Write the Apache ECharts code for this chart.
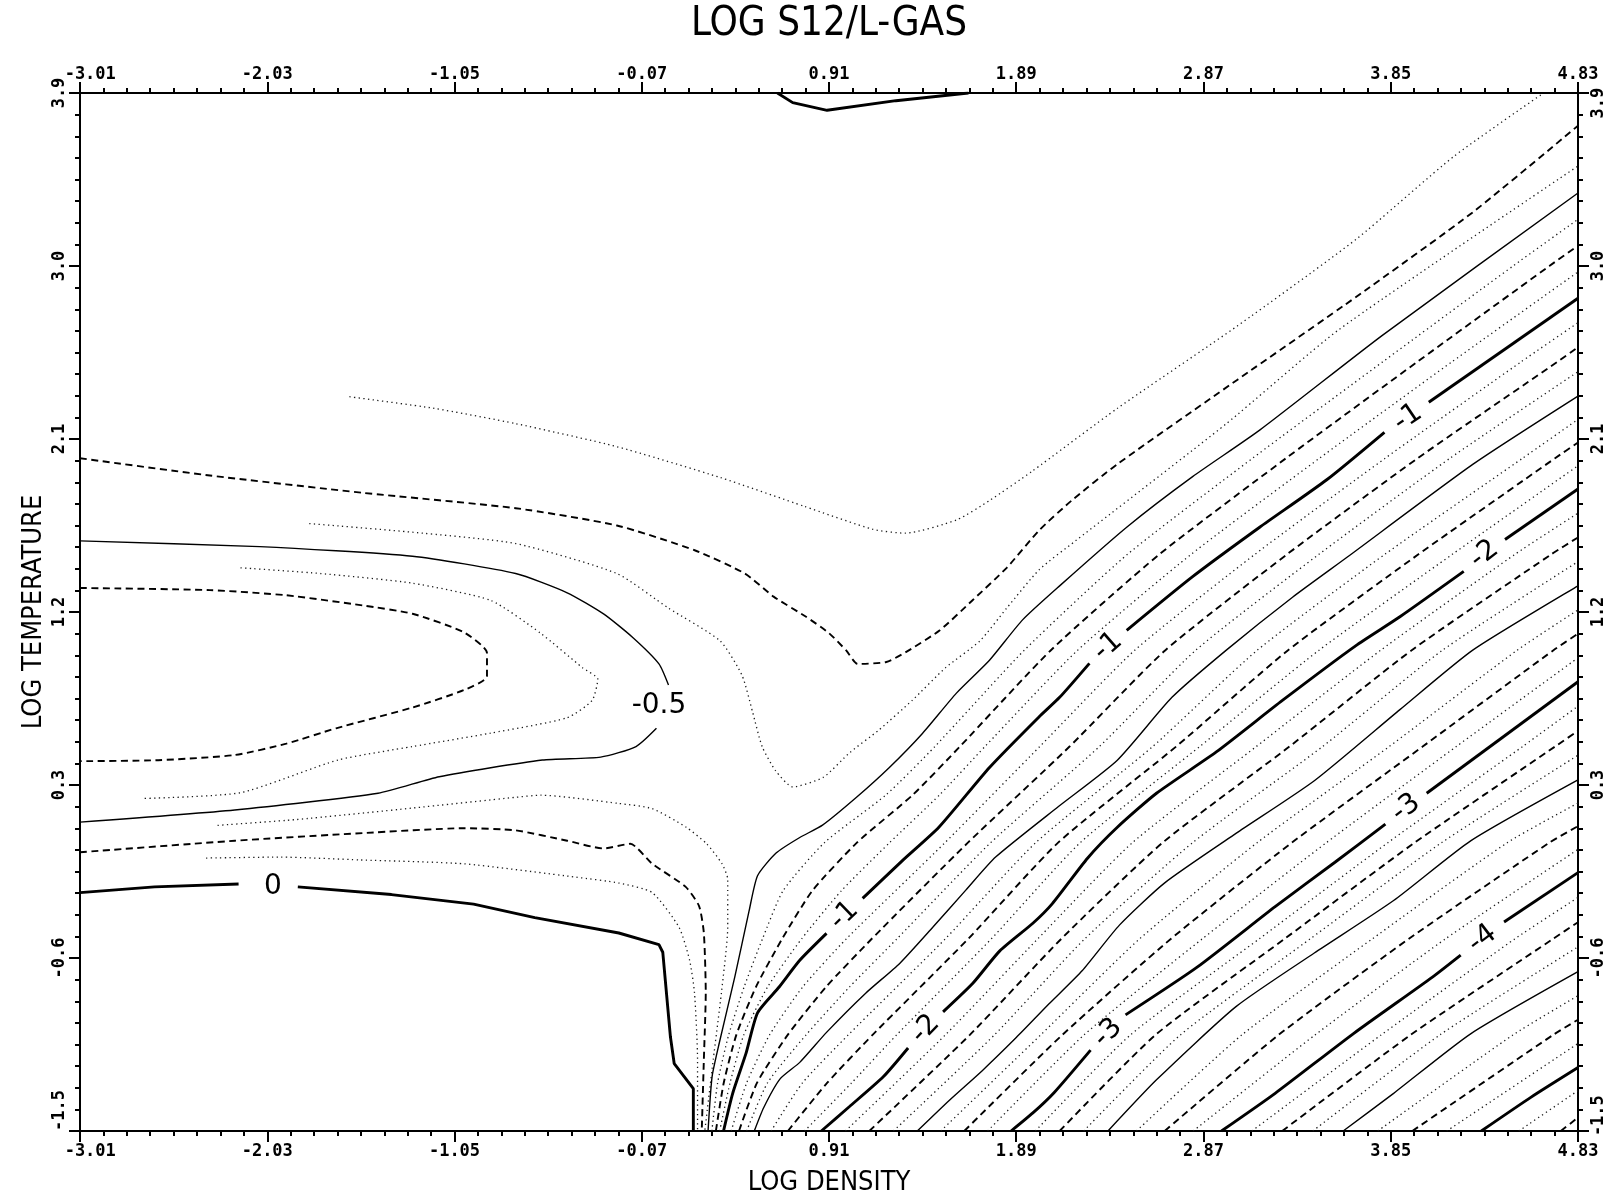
<!DOCTYPE html>
<html>
<head>
<meta charset="utf-8">
<title>LOG S12/L-GAS</title>
<script src="https://cdn.jsdelivr.net/npm/echarts@6/dist/echarts.min.js"></script>
<style>
  html, body { margin: 0; padding: 0; background: #fff; }
  #chart { width: 1617px; height: 1201px; }
</style>
</head>
<body>
<div id="chart"></div>
<script>
// ---- axis tick values ----
const xTicks = [-3.01, -2.03, -1.05, -0.07, 0.91, 1.89, 2.87, 3.85, 4.83];
const yTicks = [-1.5, -0.6, 0.3, 1.2, 2.1, 3.0, 3.9];

// ---- contour lines: [log density, log temperature]; each level is a list of segments ----
const c_0 = [
  [[-3.01,-0.26],[-2.62,-0.23],[-2.18,-0.215]],
  [[-1.87,-0.23],[-1.38,-0.27],[-0.95,-0.32],[-0.63,-0.39],[-0.19,-0.47],[0.02,-0.53],[0.04,-0.57],[0.08,-1.01],[0.10,-1.15],[0.20,-1.28],[0.20,-1.5]],
  [[0.64,3.9],[0.72,3.85],[0.90,3.81],[1.26,3.86],[1.64,3.9]]
];
const c_m0_125 = [
  [[-1.60,2.32],[-1.16,2.26],[-0.73,2.18],[-0.20,2.06],[0.34,1.90],[0.78,1.75],[1.14,1.63],[1.31,1.61],[1.58,1.68],[1.75,1.78],[1.97,1.93],[2.42,2.26],[3.05,2.69],[3.67,3.14],[4.18,3.57],[4.65,3.9]],
  [[-2.35,-0.08],[-1.96,-0.075],[-1.54,-0.09],[-1.00,-0.11],[-0.41,-0.18],[-0.19,-0.21],[-0.015,-0.26],[0.125,-0.44],[0.18,-0.61],[0.206,-0.78],[0.222,-1.13],[0.222,-1.5]]
];
const c_m0_25 = [
  [[-3.01,2.00],[-2.33,1.91],[-1.53,1.82],[-0.73,1.74],[-0.20,1.65],[0.21,1.52],[0.47,1.40],[0.62,1.28],[0.79,1.175],[0.91,1.09],[1.00,1.00],[1.06,0.93],[1.21,0.94],[1.31,0.99],[1.49,1.105],[1.66,1.26],[1.84,1.43],[2.01,1.625],[2.18,1.78],[2.42,1.97],[3.05,2.41],[3.67,2.84],[4.28,3.28],[4.83,3.73]],
  [[-3.01,-0.05],[-2.20,0.01],[-1.53,0.05],[-1.00,0.075],[-0.73,0.064],[-0.46,0.01],[-0.27,-0.03],[-0.13,-0.006],[-0.015,-0.11],[0.16,-0.23],[0.23,-0.33],[0.255,-0.47],[0.265,-0.78],[0.255,-1.13],[0.244,-1.5]]
];
const c_m0_375 = [
  [[-1.81,1.66],[-1.27,1.615],[-0.73,1.556],[-0.20,1.40],[0.07,1.22],[0.34,1.05],[0.455,0.87],[0.51,0.68],[0.56,0.50],[0.63,0.375],[0.72,0.29],[0.88,0.34],[1.02,0.47],[1.17,0.585],[1.345,0.74],[1.52,0.91],[1.70,1.05],[1.84,1.22],[2.01,1.42],[2.20,1.57],[2.99,2.18],[3.58,2.67],[4.83,3.52]],
  [[-2.29,0.09],[-1.88,0.12],[-1.27,0.18],[-0.73,0.236],[-0.60,0.247],[-0.19,0.204],[-0.015,0.177],[0.163,0.08],[0.27,-0.006],[0.35,-0.11],[0.38,-0.19],[0.38,-0.44],[0.347,-0.78],[0.304,-1.13],[0.26,-1.5]]
];
const c_m0_5 = [
  [[-3.01,1.57],[-2.07,1.54],[-1.27,1.49],[-0.73,1.40],[-0.46,1.30],[-0.27,1.19],[-0.12,1.07],[0.02,0.93],[0.07,0.82]],
  [[0.007,0.595],[-0.10,0.50],[-0.285,0.445],[-0.59,0.43],[-1.13,0.343],[-1.45,0.257],[-2.20,0.17],[-3.01,0.107]],
  [[0.277,-1.5],[0.298,-1.218],[0.336,-1.041],[0.417,-0.698],[0.492,-0.354],[0.536,-0.172],[0.633,-0.054],[0.757,0.027],[0.876,0.091],[1.054,0.236],[1.226,0.391],[1.399,0.568],[1.577,0.778],[1.750,0.949],[1.923,1.159],[2.117,1.336],[2.468,1.641],[2.813,1.904],[3.164,2.146],[3.806,2.639],[4.83,3.38]]
];
const c_m0_625 = [
  [[-2.17,1.43],[-1.75,1.40],[-1.27,1.35],[-0.86,1.26],[-0.60,1.09],[-0.38,0.91],[-0.30,0.85],[-0.33,0.74],[-0.46,0.65],[-0.86,0.57],[-1.27,0.50],[-1.66,0.43],[-2.17,0.26],[-2.68,0.23]],
  [[0.297,-1.5],[0.327,-1.25],[0.385,-1],[0.466,-0.75],[0.562,-0.5],[0.670,-0.25],[0.886,0],[1.210,0.25],[1.464,0.5],[1.931,1],[2.472,1.5],[3.127,2],[3.806,2.5],[4.49,3.0],[4.83,3.243]]
];
const c_m0_75 = [
  [[-3.01,1.325],[-2.33,1.314],[-1.93,1.287],[-1.53,1.234],[-1.27,1.191],[-1.00,1.094],[-0.88,0.987],[-0.88,0.864],[-1.00,0.794],[-1.27,0.703],[-1.67,0.595],[-1.93,0.515],[-2.20,0.456],[-2.60,0.429],[-3.01,0.424]],
  [[0.318,-1.5],[0.359,-1.25],[0.425,-1],[0.528,-0.75],[0.665,-0.5],[0.823,-0.25],[1.056,0],[1.350,0.25],[1.595,0.5],[2.070,1],[2.639,1.5],[3.302,2],[3.987,2.5],[4.68,3.0],[4.83,3.106]]
];
const c_m0_875 = [
  [[0.338,-1.5],[0.392,-1.25],[0.464,-1],[0.589,-0.75],[0.767,-0.5],[0.975,-0.25],[1.227,0],[1.490,0.25],[1.726,0.5],[2.210,1],[2.805,1.5],[3.477,2],[4.168,2.5],[4.83,2.969]]
];
const c_m1 = [
  [[0.358,-1.5],[0.406,-1.304],[0.476,-1.095],[0.536,-0.885],[0.649,-0.751],[0.757,-0.612],[0.897,-0.472]],
  [[1.086,-0.29],[1.297,-0.091],[1.485,0.08],[1.750,0.391],[2.009,0.654],[2.117,0.756],[2.273,0.933]],
  [[2.468,1.105],[2.813,1.384],[3.164,1.641],[3.515,1.888],[3.817,2.135]],
  [[4.049,2.291],[4.83,2.832]]
];
const c_m1_125 = [[[0.398,-1.5],[0.479,-1.25],[0.599,-1],[0.773,-0.75],[1.001,-0.5],[1.517,0],[2.013,0.5],[2.509,1],[3.139,1.5],[3.821,2],[4.53,2.5],[4.83,2.705]]];
const c_m1_25  = [[[0.439,-1.5],[0.533,-1.25],[0.694,-1],[0.895,-0.75],[1.134,-0.5],[1.637,0],[2.169,0.5],[2.669,1],[3.307,1.5],[3.991,2],[4.72,2.5],[4.83,2.578]]];
const c_m1_375 = [[[0.479,-1.5],[0.588,-1.25],[0.790,-1],[1.018,-0.75],[1.266,-0.5],[1.756,0],[2.325,0.5],[2.828,1],[3.474,1.5],[4.160,2],[4.83,2.450]]];
const c_m1_5 = [[[0.519,-1.5],[0.568,-1.379],[0.654,-1.229],[0.757,-1.143],[0.897,-0.987],[1.102,-0.783],[1.280,-0.628],[1.453,-0.44],[1.626,-0.247],[1.782,-0.075],[2.111,0.188],[2.419,0.429],[2.705,0.756],[2.991,1.003],[3.336,1.277],[3.623,1.486],[4.281,1.969],[4.83,2.323]]];
const c_m1_625 = [[[0.607,-1.5],[0.771,-1.25],[1.011,-1],[1.519,-0.5],[1.992,0],[2.604,0.5],[3.150,1],[3.819,1.5],[4.54,2],[4.83,2.202]]];
const c_m1_75  = [[[0.695,-1.5],[0.900,-1.25],[1.138,-1],[1.639,-0.5],[2.109,0],[2.727,0.5],[3.311,1],[3.995,1.5],[4.71,2],[4.83,2.082]]];
const c_m1_875 = [[[0.782,-1.5],[1.028,-1.25],[1.264,-1],[1.760,-0.5],[2.225,0],[2.850,0.5],[3.473,1],[4.172,1.5],[4.83,1.961]]];
const c_m2 = [
  [[0.870,-1.5],[1.016,-1.374],[1.194,-1.218],[1.324,-1.068]],
  [[1.507,-0.88],[1.664,-0.73],[1.804,-0.563],[1.977,-0.419],[2.079,-0.317],[2.263,-0.081],[2.419,0.08],[2.624,0.257],[2.937,0.472],[3.283,0.74],[3.666,1.024],[3.898,1.175],[4.232,1.411]],
  [[4.448,1.577],[4.83,1.84]]
];
const c_m2_125 = [[[0.996,-1.5],[1.519,-1],[2.003,-0.5],[2.498,0],[3.146,0.5],[3.796,1],[4.50,1.5],[4.83,1.714]]];
const c_m2_25  = [[[1.121,-1.5],[1.647,-1],[2.126,-0.5],[2.656,0],[3.320,0.5],[3.958,1],[4.69,1.5],[4.83,1.588]]];
const c_m2_375 = [[[1.247,-1.5],[1.776,-1],[2.249,-0.5],[2.813,0],[3.493,0.5],[4.119,1],[4.83,1.462]]];
const c_m2_5 = [[[1.372,-1.5],[1.539,-1.341],[1.712,-1.186],[1.890,-1.014],[2.063,-0.837],[2.236,-0.665],[2.430,-0.429],[2.667,-0.209],[3.040,0.048],[3.450,0.322],[3.898,0.692],[4.281,1.003],[4.83,1.336]]];
const c_m2_625 = [[[1.495,-1.5],[2.018,-1],[2.536,-0.5],[3.151,0],[3.842,0.5],[4.51,1.0],[4.83,1.211]]];
const c_m2_75  = [[[1.618,-1.5],[2.131,-1],[2.700,-0.5],[3.332,0],[4.017,0.5],[4.70,1.0],[4.83,1.087]]];
const c_m2_875 = [[[1.740,-1.5],[2.245,-1],[2.864,-0.5],[3.513,0],[4.193,0.5],[4.83,0.962]]];
const c_m3 = [
  [[1.863,-1.5],[1.977,-1.406],[2.090,-1.298],[2.279,-1.079]],
  [[2.462,-0.896],[2.835,-0.649],[3.245,-0.333],[3.558,-0.102],[3.822,0.096]],
  [[4.038,0.257],[4.83,0.837]]
];
const c_m3_125 = [[[1.990,-1.5],[2.488,-1],[3.162,-0.5],[3.835,0],[4.54,0.5],[4.83,0.710]]];
const c_m3_25  = [[[2.117,-1.5],[2.619,-1],[3.295,-0.5],[3.975,0],[4.71,0.5],[4.83,0.582]]];
const c_m3_375 = [[[2.243,-1.5],[2.749,-1],[3.429,-0.5],[4.116,0],[4.83,0.455]]];
const c_m3_5 = [[[2.370,-1.5],[2.624,-1.234],[3.040,-0.853],[3.450,-0.574],[3.865,-0.301],[4.270,0.011],[4.83,0.327]]];
const c_m3_625 = [[[2.519,-1.5],[3.071,-1],[3.754,-0.5],[4.46,0],[4.83,0.206]]];
const c_m3_75  = [[[2.667,-1.5],[3.263,-1],[3.945,-0.5],[4.68,0],[4.83,0.086]]];
const c_m3_875 = [[[2.816,-1.5],[3.454,-1],[4.137,-0.5],[4.83,-0.035]]];
const c_m4 = [
  [[2.964,-1.5],[3.245,-1.304],[3.655,-0.993],[4.070,-0.698],[4.216,-0.585]],
  [[4.443,-0.413],[4.83,-0.156]]
];
const c_m4_125 = [[[3.123,-1.5],[3.800,-1],[4.50,-0.5],[4.83,-0.285]]];
const c_m4_25  = [[[3.282,-1.5],[3.954,-1],[4.70,-0.5],[4.83,-0.414]]];
const c_m4_375 = [[[3.442,-1.5],[4.107,-1],[4.83,-0.542]]];
const c_m4_5 = [[[3.601,-1.5],[3.865,-1.304],[4.270,-0.993],[4.83,-0.671]]];
const c_m4_625 = [[[3.782,-1.5],[4.49,-1],[4.83,-0.796]]];
const c_m4_75  = [[[3.963,-1.5],[4.70,-1],[4.83,-0.921]]];
const c_m4_875 = [[[4.143,-1.5],[4.83,-1.045]]];
const c_m5 = [[[4.324,-1.5],[4.583,-1.325],[4.83,-1.17]]];
const c_m5_125 = [[[4.52,-1.5],[4.83,-1.29]]];
const c_m5_25  = [[[4.74,-1.5],[4.83,-1.43]]];

const contourLevels = [0,-0.125,-0.25,-0.375,-0.5,-0.625,-0.75,-0.875,-1,-1.125,-1.25,-1.375,-1.5,-1.625,-1.75,-1.875,
  -2,-2.125,-2.25,-2.375,-2.5,-2.625,-2.75,-2.875,-3,-3.125,-3.25,-3.375,-3.5,-3.625,-3.75,-3.875,
  -4,-4.125,-4.25,-4.375,-4.5,-4.625,-4.75,-4.875,-5,-5.125,-5.25];
const contourPaths = [c_0,c_m0_125,c_m0_25,c_m0_375,c_m0_5,c_m0_625,c_m0_75,c_m0_875,c_m1,c_m1_125,c_m1_25,c_m1_375,c_m1_5,c_m1_625,c_m1_75,c_m1_875,
  c_m2,c_m2_125,c_m2_25,c_m2_375,c_m2_5,c_m2_625,c_m2_75,c_m2_875,c_m3,c_m3_125,c_m3_25,c_m3_375,c_m3_5,c_m3_625,c_m3_75,c_m3_875,
  c_m4,c_m4_125,c_m4_25,c_m4_375,c_m4_5,c_m4_625,c_m4_75,c_m4_875,c_m5,c_m5_125,c_m5_25];

// ---- contour labels (placed in the gaps of their lines) ----
const labelText  = ['0', '-0.5', '-1', '-1', '-1', '-2', '-2', '-3', '-3', '-4'];
const labelLevel = [0, -0.5, -1, -1, -1, -2, -2, -3, -3, -4];
const labelAt    = [[-2.00,-0.23],[0.02,0.71],[0.99,-0.38],[2.37,1.02],[3.94,2.21],[1.415,-0.97],[4.34,1.50],[2.37,-0.99],[3.93,0.18],[4.33,-0.50]];
const labelUpright = [true, true, false, false, false, false, false, false, false, false];

// ---- line styles by contour step (1/8 units) ----
function styleFor(level) {
  const k = Math.round(Math.abs(level) * 8) % 8;
  if (k === 0) return { color: '#000', width: 2.9, type: 'solid' };            // whole units
  if (k === 4) return { color: '#000', width: 1.4, type: 'solid' };            // halves
  if (k === 2 || k === 6) return { color: '#000', width: 1.9, type: [7, 4.5] }; // quarters
  return { color: '#1a1a1a', width: 1.3, type: [1.3, 3.4] };                   // eighths
}

// subdivide major ticks into 8 minor steps
function minorOf(ticks) {
  const out = [];
  for (let i = 0; i < ticks.length - 1; i++) {
    for (let k = 0; k < 8; k++) out.push(+(ticks[i] + (ticks[i + 1] - ticks[i]) * k / 8).toFixed(6));
  }
  out.push(ticks[ticks.length - 1]);
  return out;
}
const xMinor = minorOf(xTicks);
const yMinor = minorOf(yTicks);

const tickFont = { color: '#000', fontFamily: '"DejaVu Sans Mono", monospace', fontWeight: 'bold', fontSize: 17 };

// the first label of each horizontal axis sits slightly inside the frame
function xLabel(v) {
  const s = v.toFixed(2);
  return Math.abs(v + 3.01) < 1e-9 ? '  ' + s : s;
}
function xAxisDef(pos, major) {
  return {
    type: 'value', gridIndex: 0, position: pos, min: -3.01, max: 4.83,
    axisLine: { show: !major, onZero: false, lineStyle: { color: '#000', width: 2 } },
    axisTick: { show: true, inside: false, length: major ? 11 : 5, customValues: major ? xTicks : xMinor,
                lineStyle: { color: '#000', width: 2 } },
    axisLabel: Object.assign({ show: major, customValues: xTicks, margin: pos === 'bottom' ? 12 : 10,
                formatter: xLabel }, tickFont),
    splitLine: { show: false }, minorTick: { show: false }, minorSplitLine: { show: false }
  };
}
// end labels of the vertical axes sit slightly inside the frame
function yLabel(pos) {
  return v => {
    const s = v.toFixed(1);
    if (Math.abs(v + 1.5) < 1e-9) return (pos === 'left' ? '    ' : '   ') + s;
    if (Math.abs(v - 3.9) < 1e-9 && pos === 'right') return s + '  ';
    return s;
  };
}
function yAxisDef(pos, major) {
  return {
    type: 'value', gridIndex: 0, position: pos, min: -1.5, max: 3.9,
    axisLine: { show: !major, onZero: false, lineStyle: { color: '#000', width: 2 } },
    axisTick: { show: true, inside: false, length: major ? 11 : 5, customValues: major ? yTicks : yMinor,
                lineStyle: { color: '#000', width: 2 } },
    axisLabel: Object.assign({ show: major, customValues: yTicks, rotate: 90, margin: 12,
                formatter: yLabel(pos) }, tickFont),
    splitLine: { show: false }, minorTick: { show: false }, minorSplitLine: { show: false }
  };
}

const series = [];
contourPaths.forEach((segs, i) => {
  const ls = styleFor(contourLevels[i]);
  segs.forEach(seg => {
    series.push({
      type: 'line', xAxisIndex: 0, yAxisIndex: 0, data: seg,
      symbol: 'none', showSymbol: false, silent: true, animation: false, clip: true,
      smooth: contourLevels[i] === 0 ? false : 0.2,
      lineStyle: { color: ls.color, width: ls.width, type: ls.type, cap: 'butt' }
    });
  });
});

const chart = echarts.init(document.getElementById('chart'), null, { renderer: 'canvas', width: 1617, height: 1201 });
chart.setOption({
  backgroundColor: '#fff',
  animation: false,
  grid: { left: 80, top: 93, width: 1498, height: 1038, containLabel: false, outerBoundsMode: 'none' },
  xAxis: [xAxisDef('bottom', false), xAxisDef('bottom', true), xAxisDef('top', false), xAxisDef('top', true)],
  yAxis: [yAxisDef('left', false), yAxisDef('left', true), yAxisDef('right', false), yAxisDef('right', true)],
  series: series
});

// ---- titles, axis names and contour labels ----
const textFont = '"DejaVu Sans Condensed", "DejaVu Sans", sans-serif';
const toPx = p => chart.convertToPixel({ seriesIndex: 0 }, p);
const gridMidX = 80 + 1498 / 2, gridMidY = 93 + 1038 / 2;
const graphics = [
  { type: 'text', x: gridMidX, y: 25, silent: true,
    style: { text: 'LOG S12/L-GAS', fill: '#000', font: '40px ' + textFont, align: 'center', verticalAlign: 'middle' } },
  { type: 'text', x: gridMidX, y: 1183, silent: true,
    style: { text: 'LOG DENSITY', fill: '#000', font: '27px ' + textFont, align: 'center', verticalAlign: 'middle' } },
  { type: 'text', x: 34, y: gridMidY, rotation: Math.PI / 2, silent: true,
    style: { text: 'LOG TEMPERATURE', fill: '#000', font: '27px ' + textFont, align: 'center', verticalAlign: 'middle' } }
];
labelText.forEach((t, i) => {
  const at = labelAt[i];
  let rot = 0;
  if (!labelUpright[i]) {
    const segs = contourPaths[contourLevels.indexOf(labelLevel[i])];
    let best = null, bd = Infinity;
    for (let k = 0; k < segs.length - 1; k++) {
      const a = segs[k][segs[k].length - 1], b = segs[k + 1][0];
      const mx = (a[0] + b[0]) / 2, my = (a[1] + b[1]) / 2;
      const d = (mx - at[0]) ** 2 + (my - at[1]) ** 2;
      if (d < bd) { bd = d; best = [a, b]; }
    }
    const pa = toPx(best[0]), pb = toPx(best[1]);
    rot = Math.atan2(pa[1] - pb[1], pb[0] - pa[0]);
  }
  const p = toPx(at);
  graphics.push({ type: 'text', x: p[0], y: p[1], rotation: rot, silent: true, z: 10,
    style: { text: t, fill: '#000', font: '28px "DejaVu Sans", sans-serif', align: 'center', verticalAlign: 'middle' } });
});
chart.setOption({ graphic: graphics });
</script>
</body>
</html>
